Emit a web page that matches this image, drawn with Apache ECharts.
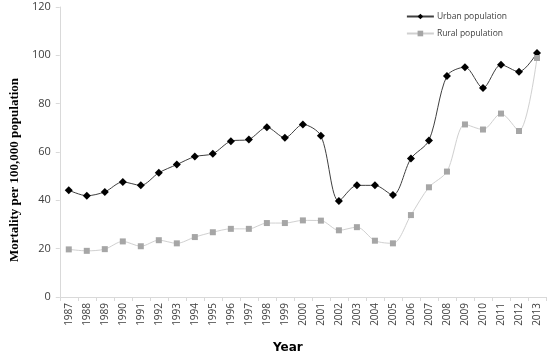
<!DOCTYPE html>
<html>
<head>
<meta charset="utf-8">
<script src="https://cdn.jsdelivr.net/npm/echarts@6/dist/echarts.min.js"></script>
<style>html,body{margin:0;padding:0;background:#fff}#c{width:550px;height:359px}</style>
</head>
<body>
<div id="c"></div>
<script>
var years = ['1987','1988','1989','1990','1991','1992','1993','1994','1995','1996','1997','1998','1999','2000','2001','2002','2003','2004','2005','2006','2007','2008','2009','2010','2011','2012','2013'];
var urban = [44.2,41.9,43.5,47.6,46.2,51.4,54.8,58.1,59.3,64.5,65.2,70.2,65.9,71.4,66.7,39.7,46.2,46.2,42.2,57.3,64.8,91.5,95.1,86.5,96.1,93.2,101];
var rural = [19.7,19.1,19.8,23.0,21.0,23.5,22.2,24.8,26.8,28.2,28.2,30.6,30.6,31.7,31.6,27.6,28.9,23.3,22.2,33.9,45.4,51.9,71.4,69.3,75.9,68.7,98.9];
var yTicks = [0,20,40,60,80,100,120];

var chart = echarts.init(document.getElementById('c'));
chart.setOption({
  animation: false,
  backgroundColor: '#fff',
  grid: {left: 49.5, right: 4, top: 7, bottom: 56},
  legend: {
    right: 38, top: 7, orient: 'vertical', itemGap: 8,
    itemWidth: 27, itemHeight: 7,
    textStyle: {fontFamily: 'Open Sans', fontSize: 8.5, color: '#404040', padding: [0, 0, 0, -2]},
    data: ['Urban population', 'Rural population']
  },
  xAxis: {
    type: 'category', data: years, boundaryGap: true,
    name: 'Year', nameLocation: 'middle', nameGap: 45,
    nameTextStyle: {fontFamily: 'DejaVu Sans', fontWeight: 'bold', fontSize: 12, color: '#000', padding: [0, 30, 0, 0]},
    axisLine: {lineStyle: {color: '#d9d9d9'}},
    axisTick: {show: true, alignWithLabel: false, length: 4, lineStyle: {color: '#d9d9d9'}},
    axisLabel: {rotate: 90, interval: 0, fontFamily: 'Open Sans', fontSize: 10, color: '#404040', margin: 6}
  },
  yAxis: {
    type: 'value', min: 0, max: 120, interval: 20,
    name: 'Mortality per 100,000 population', nameLocation: 'middle', nameGap: 28,
    nameTextStyle: {fontFamily: 'Liberation Serif', fontWeight: 'bold', fontSize: 13, color: '#000', padding: [0, 36, 0, 0]},
    axisLine: {show: true, lineStyle: {color: '#d9d9d9'}},
    axisTick: {show: true, length: 4, lineStyle: {color: '#d9d9d9'}},
    splitLine: {show: false},
    axisLabel: {fontFamily: 'Open Sans', fontSize: 11, color: '#404040', margin: 9,
      formatter: function(v){ return yTicks.indexOf(v) >= 0 ? String(v) : ''; }}
  },
  series: [
    {
      name: 'Urban population', type: 'line', data: urban, smooth: 0.3,
      symbol: 'diamond', symbolSize: 8,
      lineStyle: {color: '#404040', width: 1},
      itemStyle: {color: '#000'}
    },
    {
      name: 'Rural population', type: 'line', data: rural, smooth: 0.3,
      symbol: 'rect', symbolSize: 6,
      lineStyle: {color: '#d0d0d0', width: 1},
      itemStyle: {color: '#a6a6a6'}
    }
  ]
});
</script>
</body>
</html>
